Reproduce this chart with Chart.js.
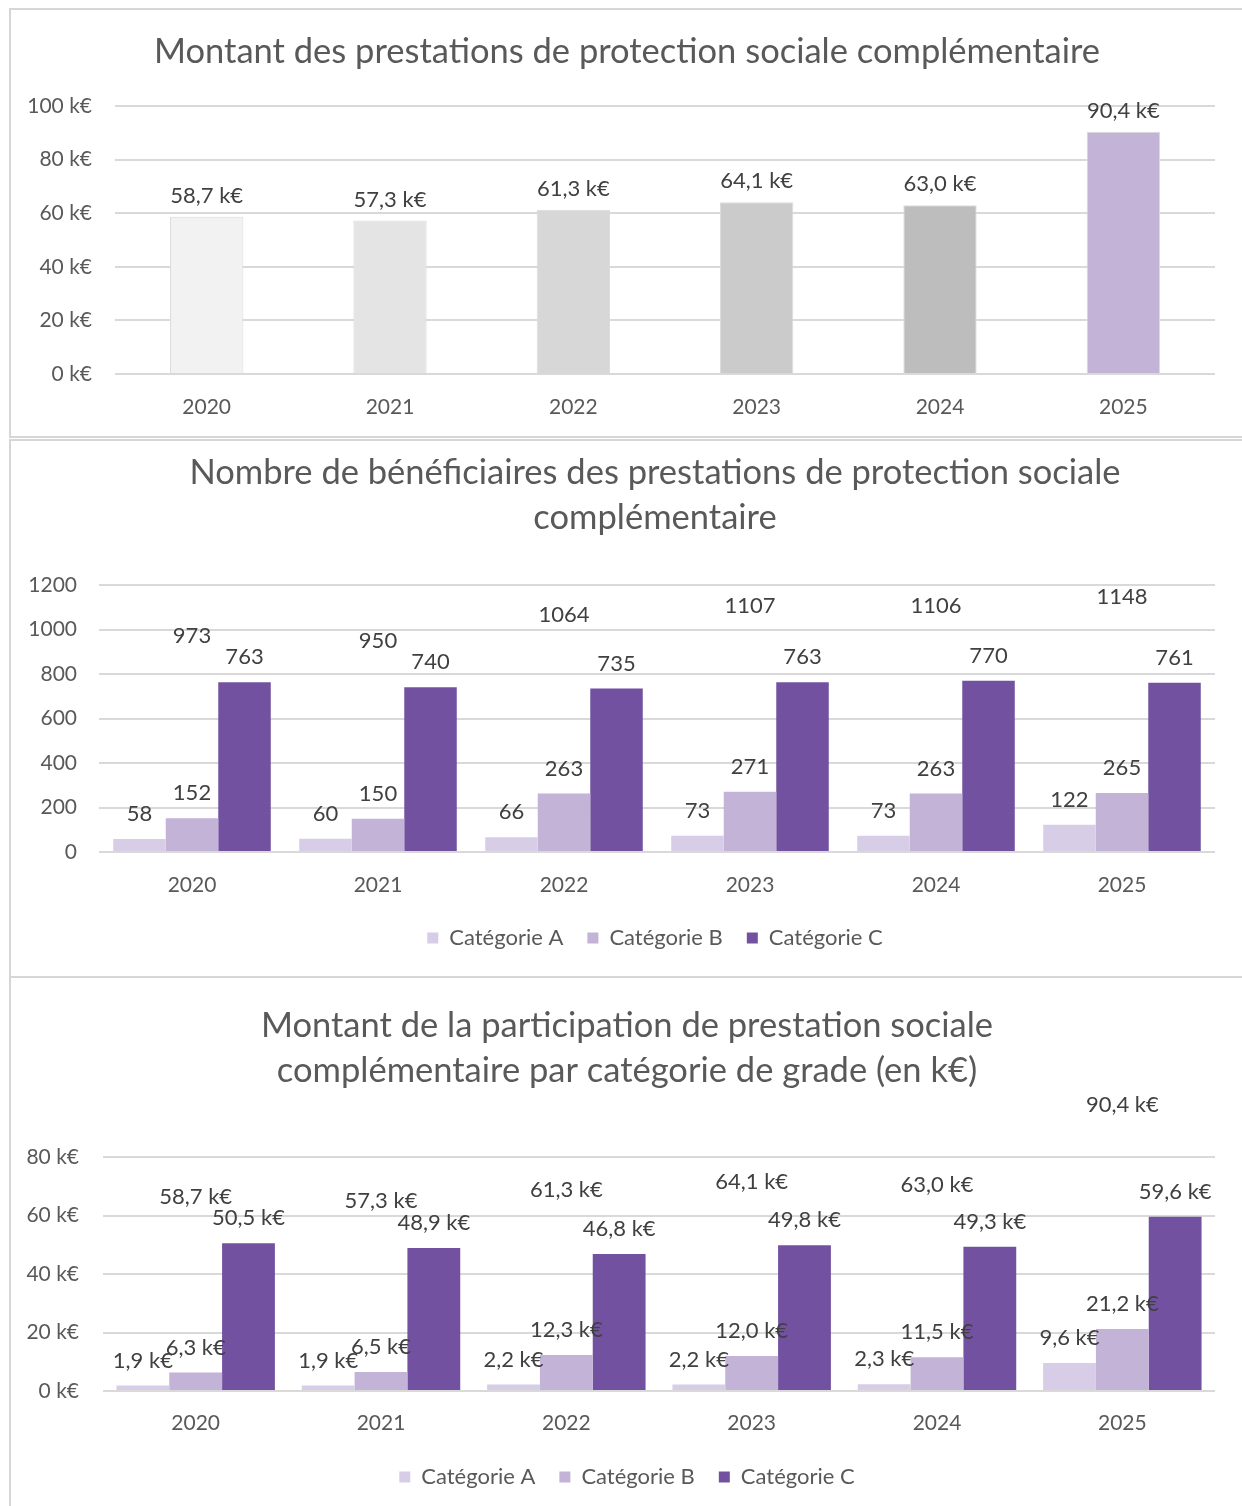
<!DOCTYPE html>
<html lang="fr">
<head>
<meta charset="utf-8">
<script src="https://cdn.jsdelivr.net/npm/chart.js"></script>
<style>
  html, body { margin: 0; padding: 0; background: #fff; overflow: hidden; }
  body { width: 1242px; height: 1506px; position: relative; overflow: hidden; }
  .cadre { position: absolute; left: 9px; width: 1260px; border: 2px solid #d6d6d6; box-sizing: border-box; }
  canvas { position: absolute; left: 10px; }
</style>
</head>
<body>
<div class="cadre" style="top:8px;height:430px"></div>
<div class="cadre" style="top:439px;height:539px"></div>
<div class="cadre" style="top:976px;height:600px"></div>
<canvas id="montant" width="1232" height="426" style="top:10px"></canvas>
<canvas id="beneficiaires" width="1288" height="535" style="top:441px"></canvas>
<canvas id="participation" width="1232" height="528" style="top:978px"></canvas>

<script>
    const annees = ['2020', '2021', '2022', '2023', '2024', '2025'];
    const categories = ['Catégorie A', 'Catégorie B', 'Catégorie C'];

    // montant total par année (k€)
    const montantTotal = [58.7, 57.3, 61.3, 64.1, 63.0, 90.4];

    // nombre de bénéficiaires par catégorie
    const beneficiairesA = [58, 60, 66, 73, 73, 122];
    const beneficiairesB = [152, 150, 263, 271, 263, 265];
    const beneficiairesC = [763, 740, 735, 763, 770, 761];
    const beneficiairesTotal = [973, 950, 1064, 1107, 1106, 1148];

    // participation par catégorie (k€)
    const montantA = [1.9, 1.9, 2.2, 2.2, 2.3, 9.6];
    const montantB = [6.3, 6.5, 12.3, 12.0, 11.5, 21.2];
    const montantC = [50.5, 48.9, 46.8, 49.8, 49.3, 59.6];

    const GRIS_ANNEES = ['#f2f2f2', '#e4e4e4', '#d7d7d7', '#cbcbcb', '#bdbdbd', '#c3b3d7'];
    const VIOLET_A = '#d8cde6';
    const VIOLET_B = '#c3b3d7';
    const VIOLET_C = '#7252a0';
    const TEXTE = '#595959';
    const GRILLE = '#d9d9d9';

    Chart.defaults.font.family = 'Lato';
    Chart.defaults.color = TEXTE;
    Chart.defaults.animation = false;

    const keuros = v => v.toFixed(1).replace('.', ',') + ' k€';

    // étiquettes de valeur au-dessus des barres (et des totaux)
    function etiquettes(format, ecart, ecartTotal) {
        return {
            id: 'etiquettes',
            afterDatasetsDraw(chart) {
                const ctx = chart.ctx;
                ctx.save();
                ctx.font = '22px Lato';
                ctx.fillStyle = '#404040';
                ctx.textAlign = 'center';
                ctx.textBaseline = 'middle';
                chart.data.datasets.forEach((ds, i) => {
                    const meta = chart.getDatasetMeta(i);
                    const dy = ds.type === 'line' ? ecartTotal : ecart;
                    meta.data.forEach((el, j) => {
                        ctx.fillText(format(ds.data[j]), el.x, el.y - dy);
                    });
                });
                ctx.restore();
            }
        };
    }

    function echelles(max, pas, suffixe, largeurY, hauteurX, padX, padY, margeDroite) {
        return {
            x: {
                grid: { display: false },
                border: { display: false },
                ticks: { padding: padX, font: { size: 21 } },
                afterFit: s => { s.height = hauteurX; }
            },
            y: {
                min: 0,
                max: max,
                grid: { color: GRILLE, lineWidth: 2, drawTicks: false },
                border: { display: false },
                ticks: {
                    stepSize: pas,
                    padding: padY,
                    font: { size: 21 },
                    callback: v => v + suffixe
                },
                afterFit: s => { s.width = largeurY; }
            },
            // axe vide à droite, sert à caler la zone de tracé
            marge: {
                position: 'right',
                grid: { display: false },
                border: { display: false },
                ticks: { display: false },
                afterFit: s => { s.width = margeDroite; }
            }
        };
    }

    function titre(texte, hauteurLigne, haut, bas) {
        return {
            display: true,
            text: texte,
            color: TEXTE,
            font: { size: 34.5, weight: 'normal', lineHeight: hauteurLigne },
            padding: { top: haut, bottom: bas }
        };
    }

    const legende = {
        position: 'bottom',
        labels: {
            boxWidth: 11,
            boxHeight: 11,
            padding: 24,
            color: TEXTE,
            font: { size: 22 },
            filter: item => item.datasetIndex < 3
        }
    };

    // 1. montant des prestations
    new Chart(document.getElementById('montant'), {
        type: 'bar',
        data: {
            labels: annees,
            datasets: [{
                label: 'Montant',
                data: montantTotal,
                backgroundColor: GRIS_ANNEES,
                borderColor: '#dcdcdc',
                borderWidth: 1,
                categoryPercentage: 0.4,
                barPercentage: 1
            }]
        },
        options: {
            responsive: false,
            layout: { padding: { left: 2, right: 0, top: 0, bottom: 0 } },
            scales: echelles(100, 20, ' k€', 103, 62, 13, 23, 27),
            plugins: {
                title: titre('Montant des prestations de protection sociale complémentaire', '41px', 21.5, 33.5),
                legend: { display: false },
                tooltip: { enabled: false }
            }
        },
        plugins: [etiquettes(keuros, 21, 0)]
    });

    // 2. nombre de bénéficiaires
    new Chart(document.getElementById('beneficiaires'), {
        type: 'bar',
        data: {
            labels: annees,
            datasets: [
                { label: categories[0], data: beneficiairesA, backgroundColor: VIOLET_A },
                { label: categories[1], data: beneficiairesB, backgroundColor: VIOLET_B },
                { label: categories[2], data: beneficiairesC, backgroundColor: VIOLET_C },
                { type: 'line', label: 'Total', data: beneficiairesTotal, showLine: false, pointRadius: 0, pointHoverRadius: 0 }
            ]
        },
        options: {
            responsive: false,
            categoryPercentage: 0.847,
            barPercentage: 1,
            layout: { padding: { left: 2, right: 0, top: 0, bottom: 17 } },
            scales: echelles(1200, 200, '', 87, 51, 13, 22, 83),
            plugins: {
                title: titre(['Nombre de bénéficiaires des prestations de protection sociale', 'complémentaire'], '45px', 9.5, 44.5),
                legend: legende,
                tooltip: { enabled: false }
            }
        },
        plugins: [etiquettes(v => String(v), 25, 0)]
    });

    // 3. participation par catégorie de grade
    new Chart(document.getElementById('participation'), {
        type: 'bar',
        data: {
            labels: annees,
            datasets: [
                { label: categories[0], data: montantA, backgroundColor: VIOLET_A },
                { label: categories[1], data: montantB, backgroundColor: VIOLET_B },
                { label: categories[2], data: montantC, backgroundColor: VIOLET_C },
                { type: 'line', label: 'Total', data: montantTotal, showLine: false, pointRadius: 0, pointHoverRadius: 0 }
            ]
        },
        options: {
            responsive: false,
            categoryPercentage: 0.855,
            barPercentage: 1,
            layout: { padding: { left: 2, right: 0, top: 0, bottom: 8 } },
            scales: echelles(80, 20, ' k€', 91, 51, 12, 24, 27),
            plugins: {
                title: titre(['Montant de la participation de prestation sociale', 'complémentaire par catégorie de grade (en k€)'], '45px', 25.5, 63.5),
                legend: legende,
                tooltip: { enabled: false }
            }
        },
        plugins: [etiquettes(keuros, 25, 22)]
    });
</script>
</body>
</html>
